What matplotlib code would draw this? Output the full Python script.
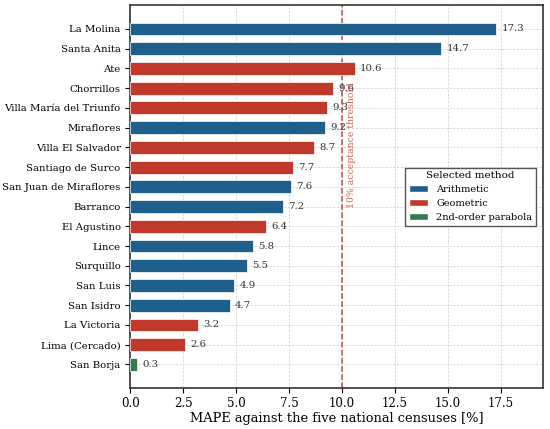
import matplotlib
matplotlib.use("Agg")
import matplotlib.pyplot as plt
from matplotlib.patches import Patch

districts = ["La Molina", "Santa Anita", "Ate", "Chorrillos", "Villa María del Triunfo",
             "Miraflores", "Villa El Salvador", "Santiago de Surco", "San Juan de Miraflores",
             "Barranco", "El Agustino", "Lince", "Surquillo", "San Luis", "San Isidro",
             "La Victoria", "Lima (Cercado)", "San Borja"]
mape = [17.3, 14.7, 10.6, 9.6, 9.3, 9.2, 8.7, 7.7, 7.6, 7.2, 6.4, 5.8, 5.5, 4.9, 4.7, 3.2, 2.6, 0.3]
method = ["Arithmetic", "Arithmetic", "Geometric", "Geometric", "Geometric", "Arithmetic",
          "Geometric", "Geometric", "Arithmetic", "Arithmetic", "Geometric", "Arithmetic",
          "Arithmetic", "Arithmetic", "Arithmetic", "Geometric", "Geometric", "2nd-order parabola"]
methods = ["Arithmetic", "Geometric", "2nd-order parabola"]
colors = {"Arithmetic": "#1f5f8b", "Geometric": "#c0392b", "2nd-order parabola": "#2e7d4f"}
threshold = 10.0

plt.rcParams['font.family'] = ['DejaVu Serif']

fig, ax = plt.subplots(figsize=(5.5, 4.29), dpi=100)
y = list(range(len(districts)))
ax.barh(y, mape, height=0.65, color=[colors[m] for m in method],
        edgecolor="white", linewidth=0.5, zorder=3)
ax.invert_yaxis()
ax.set_yticks(y)
ax.set_yticklabels(districts, fontsize=7.3)
for yi, v in zip(y, mape):
    ax.text(v + 0.25, yi, f"{v:.1f}", va="center", ha="left", fontsize=7.3, color="#333333", zorder=4)

ax.axvline(threshold, color="#a93226", linestyle="--", linewidth=1.1, alpha=0.85, zorder=2)
ax.text(threshold + 0.22, 9.05, "10% acceptance threshold", rotation=90, va="bottom", ha="left",
        fontsize=6.7, color="#c0392b", alpha=0.8, zorder=4)

ax.set_xlim(0, 19.5)
ax.set_xticks([0, 2.5, 5, 7.5, 10, 12.5, 15, 17.5])
ax.tick_params(axis="x", labelsize=8.5, pad=2.5)
ax.tick_params(axis="y", length=3.5)
ax.set_xlabel("MAPE against the five national censuses [%]", fontsize=9.4, labelpad=2)
ax.grid(True, color="#d5d5d5", linestyle=(0, (3, 1.5)), linewidth=0.6, zorder=0)
ax.set_axisbelow(True)
for s in ax.spines.values():
    s.set_color("#333333")
    s.set_linewidth(1.2)

handles = [Patch(facecolor=colors[m], edgecolor="white", label=m) for m in methods]
ax.legend(handles=handles, title="Selected method", loc="center right",
          bbox_to_anchor=(0.995, 0.5), fontsize=7, title_fontsize=7.5,
          fancybox=False, edgecolor="#555555", framealpha=1)

fig.subplots_adjust(left=0.237, right=0.987, top=0.988, bottom=0.095)
fig.savefig("out.png", dpi=100)
